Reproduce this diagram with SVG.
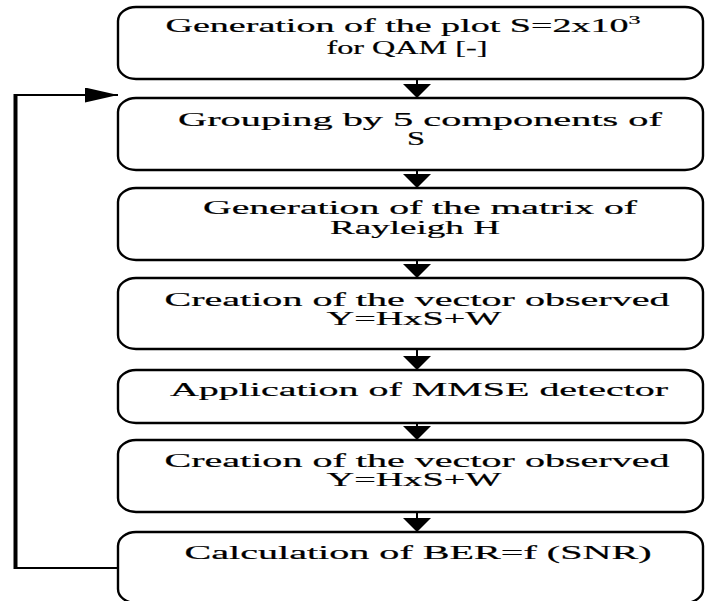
<svg xmlns="http://www.w3.org/2000/svg" width="705" height="601" viewBox="0 0 705 601">
<style>
.box{fill:#fff;stroke:#000;stroke-width:2.4}
.edge{stroke:#000;stroke-width:2;fill:none}
.t{font-family:"Liberation Serif","Times New Roman",serif;font-size:19px;fill:#000;stroke:#000;stroke-width:0.2;text-anchor:middle}
</style>
<defs>
<marker id="ah" viewBox="0 0 14 28" markerWidth="14" markerHeight="28" refX="14" refY="14" orient="auto" markerUnits="userSpaceOnUse"><path d="M0,0 L14,14 L0,28 z" fill="#000"/></marker>
<marker id="ahl" viewBox="0 0 33 15" markerWidth="33" markerHeight="15" refX="33" refY="7.5" orient="auto" markerUnits="userSpaceOnUse"><path d="M0,0 L33,7.5 L0,15 z" fill="#000"/></marker>
</defs>
<g id="connectors">
<line class="edge" x1="417" y1="79" x2="417" y2="98" marker-end="url(#ah)"/>
<line class="edge" x1="417" y1="170" x2="417" y2="188" marker-end="url(#ah)"/>
<line class="edge" x1="417" y1="260" x2="417" y2="278" marker-end="url(#ah)"/>
<line class="edge" x1="417" y1="349" x2="417" y2="370" marker-end="url(#ah)"/>
<line class="edge" x1="417" y1="423" x2="417" y2="440" marker-end="url(#ah)"/>
<line class="edge" x1="417" y1="512" x2="417" y2="532" marker-end="url(#ah)"/>
<path class="edge" d="M118,568 H15"/>
<line x1="15.5" y1="94" x2="15.5" y2="569" stroke="#000" stroke-width="4"/>
<path class="edge" d="M14,95 H118" marker-end="url(#ahl)"/>
</g>
<g id="n1">
<rect class="box" x="118" y="7" width="585" height="72" rx="18" ry="14"/>
<text class="t" x="403" y="32" textLength="475" lengthAdjust="spacingAndGlyphs">Generation of the plot S=2x10<tspan font-size="12" dy="-8">3</tspan></text>
<text class="t" x="407" y="54" textLength="161" lengthAdjust="spacingAndGlyphs">for QAM [-]</text>
</g>
<g id="n2">
<rect class="box" x="118" y="98" width="585" height="72" rx="18" ry="14"/>
<text class="t" x="420" y="126" textLength="484" lengthAdjust="spacingAndGlyphs">Grouping by 5 components of</text>
<text class="t" x="416" y="145" textLength="18" lengthAdjust="spacingAndGlyphs">S</text>
</g>
<g id="n3">
<rect class="box" x="118" y="188" width="585" height="72" rx="18" ry="14"/>
<text class="t" x="420" y="214" textLength="434" lengthAdjust="spacingAndGlyphs">Generation of the matrix of</text>
<text class="t" x="415" y="234" textLength="170" lengthAdjust="spacingAndGlyphs">Rayleigh H</text>
</g>
<g id="n4">
<rect class="box" x="118" y="278" width="585" height="71" rx="18" ry="14"/>
<text class="t" x="417" y="306" textLength="505" lengthAdjust="spacingAndGlyphs">Creation of the vector observed</text>
<text class="t" x="414" y="325" textLength="175" lengthAdjust="spacingAndGlyphs">Y=HxS+W</text>
</g>
<g id="n5">
<rect class="box" x="118" y="370" width="585" height="53" rx="18" ry="14"/>
<text class="t" x="419" y="396" textLength="498" lengthAdjust="spacingAndGlyphs">Application of MMSE detector</text>
</g>
<g id="n6">
<rect class="box" x="118" y="440" width="585" height="72" rx="18" ry="14"/>
<text class="t" x="417" y="467" textLength="505" lengthAdjust="spacingAndGlyphs">Creation of the vector observed</text>
<text class="t" x="414" y="486" textLength="175" lengthAdjust="spacingAndGlyphs">Y=HxS+W</text>
</g>
<g id="n7">
<rect class="box" x="118" y="532" width="585" height="71" rx="18" ry="14"/>
<text class="t" x="418" y="559" textLength="467" lengthAdjust="spacingAndGlyphs">Calculation of BER=f (SNR)</text>
</g>
</svg>
